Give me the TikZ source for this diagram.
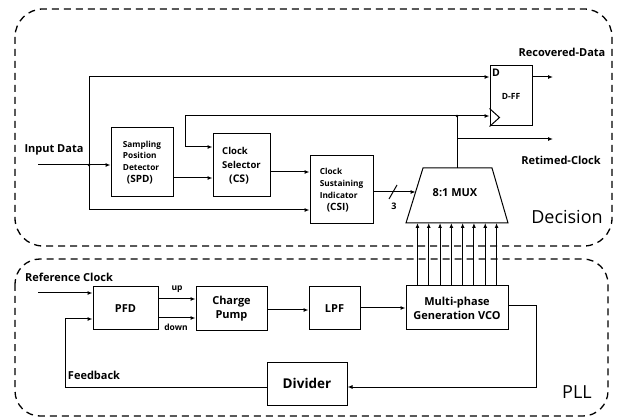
\documentclass[tikz,border=0pt]{standalone}
\usepackage{fontspec}
\setmainfont{Open Sans}
\usetikzlibrary{arrows.meta,calc}
\begin{document}
\begin{tikzpicture}[x=1pt,y=-1pt,
  blk/.style={draw,line width=1pt,inner sep=0pt,align=center,font=\bfseries\fontsize{8.3}{11.8}\selectfont},
  sblk/.style={blk,font=\bfseries\fontsize{11}{14}\selectfont},
  wire/.style={line width=1pt},
  arr/.style={wire,-{Latex[length=5pt,width=4pt]}},
  lbl/.style={font=\bfseries\fontsize{11}{13}\selectfont,inner sep=0pt},
  slbl/.style={font=\bfseries\fontsize{8.5}{10}\selectfont,inner sep=0pt},
  grp/.style={dashed,line width=1.3pt,dash pattern=on 7pt off 5pt,rounded corners=28pt},
  big/.style={font=\fontsize{18}{20}\selectfont,inner sep=0pt}]
\useasboundingbox (0,0) rectangle (618,419);
% groups
\draw[grp] (15,9) rectangle (612,246);
\draw[grp,rounded corners=25pt] (15,259) rectangle (608,416);
\node[big] at (567,217) {Decision};
\node[big] at (577,392) {PLL};
% decision blocks
\node[blk,align=left,minimum width=62pt,minimum height=69pt] (spd) at (142,162.5) {Sampling\\Position\\Detector\\\hspace*{4pt}{\fontsize{10}{12}\selectfont(SPD)}};
\node[blk,align=left,minimum width=57pt,minimum height=63pt,font=\bfseries\fontsize{9.5}{14}\selectfont] (cs) at (241.5,165.5) {Clock\\Selector\\\hspace*{7pt}{\fontsize{10.5}{14}\selectfont(CS)}};
\node[blk,align=left,minimum width=63pt,minimum height=68pt] (csi) at (341.5,190) {Clock\\Sustaining\\Indicator\\\hspace*{7pt}{\fontsize{10}{12}\selectfont(CSI)}};
\node[blk,minimum width=42pt,minimum height=60pt,font=\bfseries\fontsize{8.5}{10}\selectfont] (dff) at (511,96) {D-FF};
\node[font=\bfseries\fontsize{10.5}{12}\selectfont,anchor=north west,inner sep=0pt] (dlab) at (492,69) {D};
\draw[line width=1pt] (dff.south west) ++(0,-18) -- ++(10,9) -- ++(-10,9);
% mux
\coordinate (mtl) at (423,168); \coordinate (mtr) at (492,168);
\coordinate (mbl) at (406,223); \coordinate (mbr) at (508,223);
\draw[line width=1pt] (mbl) -- (mtl) -- (mtr) -- (mbr) -- cycle;
\node[font=\bfseries\fontsize{11}{12}\selectfont] (mux) at (455,193) {8:1 MUX};
\coordinate (mout) at (457,168);
% pll blocks
\node[sblk,minimum width=65pt,minimum height=43pt] (pfd) at (125.5,308.5) {PFD};
\node[sblk,minimum width=71pt,minimum height=44pt] (cp) at (231.5,309) {Charge\\Pump};
\node[sblk,minimum width=51pt,minimum height=43pt] (lpf) at (334.5,308.5) {LPF};
\node[sblk,minimum width=102pt,minimum height=44pt] (vco) at (457,308) {Multi-phase\\Generation VCO};
\node[blk,font=\bfseries\fontsize{13.5}{15}\selectfont,minimum width=80pt,minimum height=43pt] (div) at (307,383.5) {Divider};
% labels
\node[lbl] at (54,150) {Input Data};
\node[lbl] at (562,52) {Recovered-Data};
\node[lbl] at (561,160) {Retimed-Clock};
\node[lbl] at (69,277) {Reference Clock};
\node[lbl] at (94,375) {Feedback};
\node[slbl] at (177,289) {up};
\node[slbl] at (176,327) {down};
\node[slbl,font=\bfseries\fontsize{9}{10}\selectfont] at (394,206) {3};
% decision wiring
\coordinate (inA) at (38,165);
\coordinate (j1) at (89,165);
\draw[arr] (inA) -- (inA -| spd.west);
\fill (j1) circle (1.3pt);
\draw[wire] (89,77) -- (89,210);
\draw[arr] (89,77) -- (dff.west |- 0,77);
\draw[arr] (89,210) -- (csi.west |- 0,210);
\draw[arr] (spd.east |- 0,178) -- (cs.west |- 0,178);
\draw[arr] (cs.east |- 0,172) -- (csi.west |- 0,172);
\coordinate (jm) at (457,116);
\draw[wire] (mout) -- (jm);
\fill (jm) circle (1.3pt);
\draw[arr] (jm) -- (dff.west |- 0,116);
\draw[arr] (jm) -- (185,116) -- (185,147) -- (cs.west |- 0,147);
\draw[arr] (457,139) -- (553,139);
\draw[arr] (dff.east |- 0,77) -- (553,77);
\draw[arr] (csi.east |- 0,192) -- (415.6,192);
\draw[wire] (389,199) -- (397,185);
% vco to mux
\foreach \i in {1,...,8}{
  \draw[arr] ($(vco.north)+({(\i-4.5)*11.3},0)$) -- ($(457,223)+({(\i-4.5)*11.3},0)$);
}
% pll wiring
\draw[arr] (38,293) -- (pfd.west |- 0,293);
\draw[arr] (pfd.east |- 0,299) -- (cp.west |- 0,299);
\draw[arr] (pfd.east |- 0,318) -- (cp.west |- 0,318);
\draw[arr] (cp.east |- 0,310) -- (lpf.west |- 0,310);
\draw[arr] (lpf.east |- 0,308) -- (vco.west |- 0,308);
\draw[arr] (vco.east |- 0,306) -- (536,306) -- (536,387) -- (div.east |- 0,387);
\draw[arr] (div.west |- 0,387) -- (65,387) -- (65,319) -- (pfd.west |- 0,319);
\end{tikzpicture}
\end{document}
